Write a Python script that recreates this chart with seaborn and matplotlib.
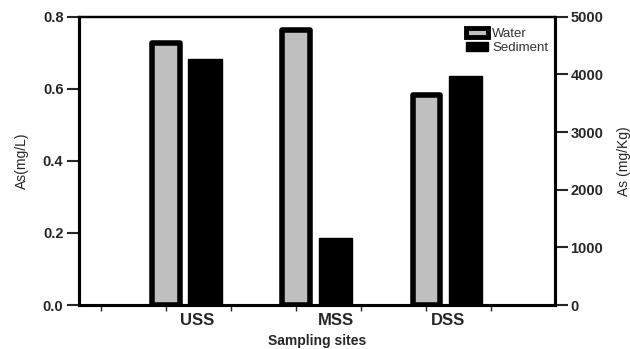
import numpy as np
import pandas as pd
import matplotlib
matplotlib.use("Agg")
import matplotlib.pyplot as plt
from matplotlib.patches import Patch
import seaborn as sns

sites = ["USS", "MSS", "DSS"]
water_mg_per_l = [0.728, 0.762, 0.582]
sediment_mg_per_kg = [4270, 1165, 3980]
series = ["Water", "Sediment"]
left_ticks = [0.0, 0.2, 0.4, 0.6, 0.8]
right_ticks = [0, 1000, 2000, 3000, 4000, 5000]

sns.set_theme(style="ticks")
plt.rcParams["font.family"] = ["Liberation Sans", "DejaVu Sans"]

water_df = pd.DataFrame({"site": sites, "kind": "Water", "value": water_mg_per_l})
sed_df = pd.DataFrame({"site": sites, "kind": "Sediment", "value": sediment_mg_per_kg})
palette = {"Water": "#bfbfbf", "Sediment": "#000000"}

fig = plt.figure(figsize=(6.3, 3.49), dpi=100)
ax = fig.add_axes([0.125, 0.126, 0.756, 0.826])
ax2 = ax.twinx()

common = dict(x="site", y="value", hue="kind", hue_order=series, order=sites,
              palette=palette, width=0.6, dodge=True, edgecolor="black",
              legend=False, errorbar=None, saturation=1)
sns.barplot(data=water_df, ax=ax, gap=0.3, linewidth=4, **common)
sns.barplot(data=sed_df, ax=ax2, gap=0.15, linewidth=1, **common)
for p in ax.patches:
    p.set_joinstyle("round")

ax.set_ylim(0, 0.8)
ax2.set_ylim(0, 5000)
ax.set_xlim(-0.82, 2.84)

ax.set_yticks(left_ticks)
ax.set_yticklabels([f"{t:.1f}" for t in left_ticks], fontsize=10.5, fontweight="bold")
ax2.set_yticks(right_ticks)
ax2.set_yticklabels([str(t) for t in right_ticks], fontsize=10.5, fontweight="bold")

# category labels sit a little off the dodged bar pairs
ax.set_xticks([0.09, 1.16, 2.02])
ax.set_xticklabels(sites, fontsize=12, fontweight="bold")
ax.set_xticks([-0.65, -0.15, 0.35, 0.85, 1.35, 1.85, 2.35], minor=True)
ax.tick_params(axis="x", which="major", length=0, pad=6)
ax.tick_params(axis="x", which="minor", length=4, width=1, direction="out")
ax.tick_params(axis="y", length=9, width=1.5, direction="out", pad=2)
ax2.tick_params(axis="y", length=9, width=1.5, direction="out", pad=2)

ax.set_xlabel("Sampling sites", fontsize=10, fontweight="bold", labelpad=4)
ax.set_ylabel("As(mg/L)", fontsize=10, labelpad=10)
ax2.set_ylabel("As (mg/Kg)", fontsize=10, labelpad=10)

for a in (ax, ax2):
    for side in ("left", "right", "bottom"):
        a.spines[side].set_linewidth(2.2)
        a.spines[side].set_color("black")
    a.spines["top"].set_linewidth(1.6)
    a.spines["top"].set_color("black")

handles = [Patch(facecolor=palette["Water"], edgecolor="black", linewidth=3.5,
                 joinstyle="round", label="Water"),
           Patch(facecolor=palette["Sediment"], edgecolor="black", linewidth=1, label="Sediment")]
leg = ax2.legend(handles=handles, loc="upper right", frameon=False, fontsize=9.5,
                 handlelength=1.7, handleheight=0.7, handletextpad=0.3,
                 labelspacing=0.15, borderaxespad=0.1, bbox_to_anchor=(1.0, 0.985))
for t in leg.get_texts():
    t.set_color("#333333")

fig.savefig("out.png", dpi=100)
